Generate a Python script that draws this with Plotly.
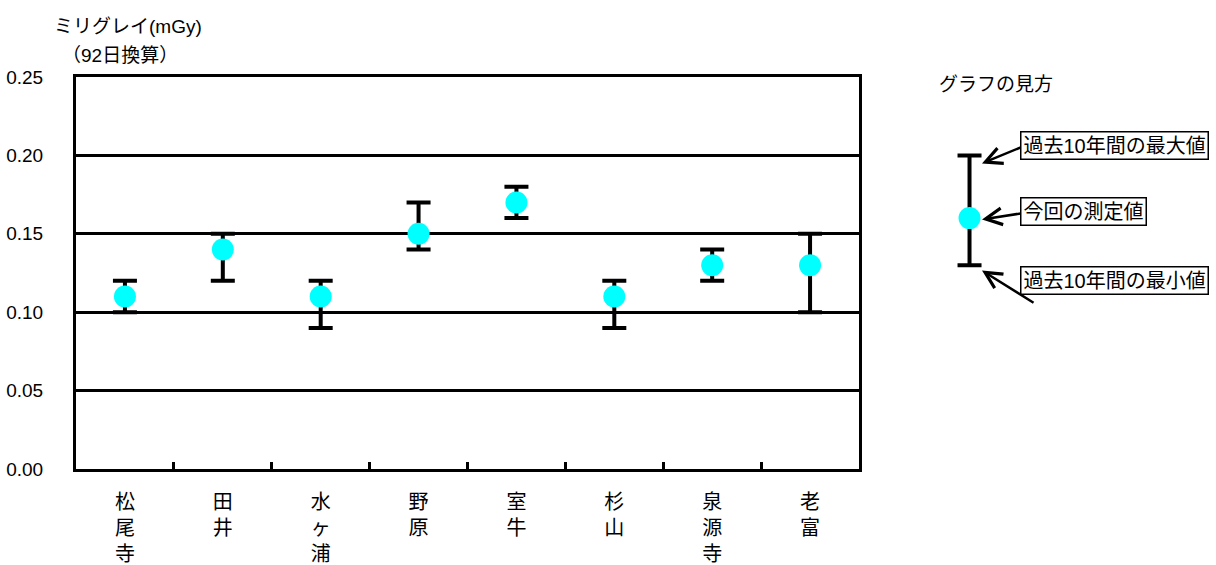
import plotly.graph_objects as go

# Monitoring sites (one character per line on the axis)
sites = ["松尾寺", "田井", "水ヶ浦", "野原", "室牛", "杉山", "泉源寺", "老富"]
# Current measurement and past-10-year range, mGy (92-day equivalent)
current = [0.11, 0.14, 0.11, 0.15, 0.17, 0.11, 0.13, 0.13]
max10 = [0.12, 0.15, 0.12, 0.17, 0.18, 0.12, 0.14, 0.15]
min10 = [0.10, 0.12, 0.09, 0.14, 0.16, 0.09, 0.12, 0.10]

# Example mark for the "how to read" guide
guide_value = [0.16]
guide_max = [0.20]
guide_min = [0.13]

y_ticks = [0.00, 0.05, 0.10, 0.15, 0.20, 0.25]

FONT = "Liberation Sans, Noto Sans CJK JP, sans-serif"
CYAN = "#00FFFF"

fig = go.Figure()

fig.add_trace(go.Scatter(
    x=sites, y=current, mode="markers",
    marker=dict(color=CYAN, size=22, line=dict(width=0)),
    error_y=dict(type="data", symmetric=False,
                 array=[hi - v for hi, v in zip(max10, current)],
                 arrayminus=[v - lo for lo, v in zip(min10, current)],
                 color="black", thickness=4, width=12),
    xaxis="x", yaxis="y", showlegend=False, hoverinfo="skip",
))

fig.add_trace(go.Scatter(
    x=[0], y=guide_value, mode="markers",
    marker=dict(color=CYAN, size=22, line=dict(width=0)),
    error_y=dict(type="data", symmetric=False,
                 array=[guide_max[0] - guide_value[0]],
                 arrayminus=[guide_value[0] - guide_min[0]],
                 color="black", thickness=4, width=12),
    xaxis="x2", yaxis="y2", showlegend=False, hoverinfo="skip",
))

W, H = 1216, 565
L, R, T, B = 76, 0, 77, 87
plot_w = W - L - R
main_end = 783 / plot_w

fig.update_layout(
    width=W, height=H, autosize=False,
    margin=dict(l=L, r=R, t=T, b=B, pad=0),
    paper_bgcolor="white", plot_bgcolor="white",
    font=dict(family=FONT, color="black", size=18),
    xaxis=dict(
        domain=[0, main_end], type="category",
        categoryorder="array", categoryarray=sites,
        range=[-0.5, len(sites) - 0.5],
        tickmode="array", tickvals=sites,
        ticktext=["<br>".join(list(s)) for s in sites],
        tickson="boundaries", ticks="inside", ticklen=7, tickwidth=3, tickcolor="black",
        showline=True, linewidth=3, linecolor="black", mirror=True,
        showgrid=False, zeroline=False,
        tickfont=dict(size=20, family=FONT), ticklabelstandoff=13,
        anchor="y",
    ),
    yaxis=dict(
        domain=[0, 1], range=[0, 0.25],
        tickmode="array", tickvals=y_ticks, tickformat=".2f",
        ticks="", showline=True, linewidth=3, linecolor="black", mirror=True,
        showgrid=True, gridcolor="black", gridwidth=3, zeroline=False,
        tickfont=dict(size=19, family=FONT), ticklabelstandoff=26,
        anchor="x",
    ),
    xaxis2=dict(domain=[0.74, 1.0], range=[-1.6, 7.9], visible=False, anchor="y2"),
    yaxis2=dict(domain=[0, 1], range=[0, 0.25], visible=False, anchor="x2"),
)

annotations = [
    dict(text="ミリグレイ(mGy)", xref="paper", yref="paper", x=-0.021, y=1.13,
         xanchor="left", yanchor="middle", showarrow=False, font=dict(size=19)),
    dict(text="（92日換算）", xref="paper", yref="paper", x=-0.014, y=1.055,
         xanchor="left", yanchor="middle", showarrow=False, font=dict(size=19)),
    dict(text="グラフの見方", xref="x2", yref="y2", x=-1.05, y=0.245,
         xanchor="left", yanchor="middle", showarrow=False, font=dict(size=19)),
]

boxes = [
    ("過去10年間の最大値", 0.2061, 0.2049, 0.1949),
    ("今回の測定値", 0.1642, 0.1629, 0.1591),
    ("過去10年間の最小値", 0.1203, 0.1115, 0.1266),
]

# pointer arrows first, so the label boxes sit on top of their tails
for label, yc, tail_y, tip_y in boxes:
    annotations.append(dict(
        text="", xref="x2", yref="y2", x=0.4, y=tip_y,
        axref="x2", ayref="y2", ax=2.1, ay=tail_y + (tail_y - tip_y) * 0.4,
        showarrow=True, arrowhead=5, arrowsize=1.3, arrowwidth=2.5,
        arrowcolor="black", standoff=0, startstandoff=0,
    ))
for label, yc, tail_y, tip_y in boxes:
    annotations.append(dict(
        text=label, xref="x2", yref="y2", x=1.62, y=yc,
        xanchor="left", yanchor="middle", showarrow=False,
        font=dict(size=20), bgcolor="white",
        bordercolor="black", borderwidth=1.5, borderpad=2,
    ))

fig.update_layout(annotations=annotations)

fig.write_html("out.html")
